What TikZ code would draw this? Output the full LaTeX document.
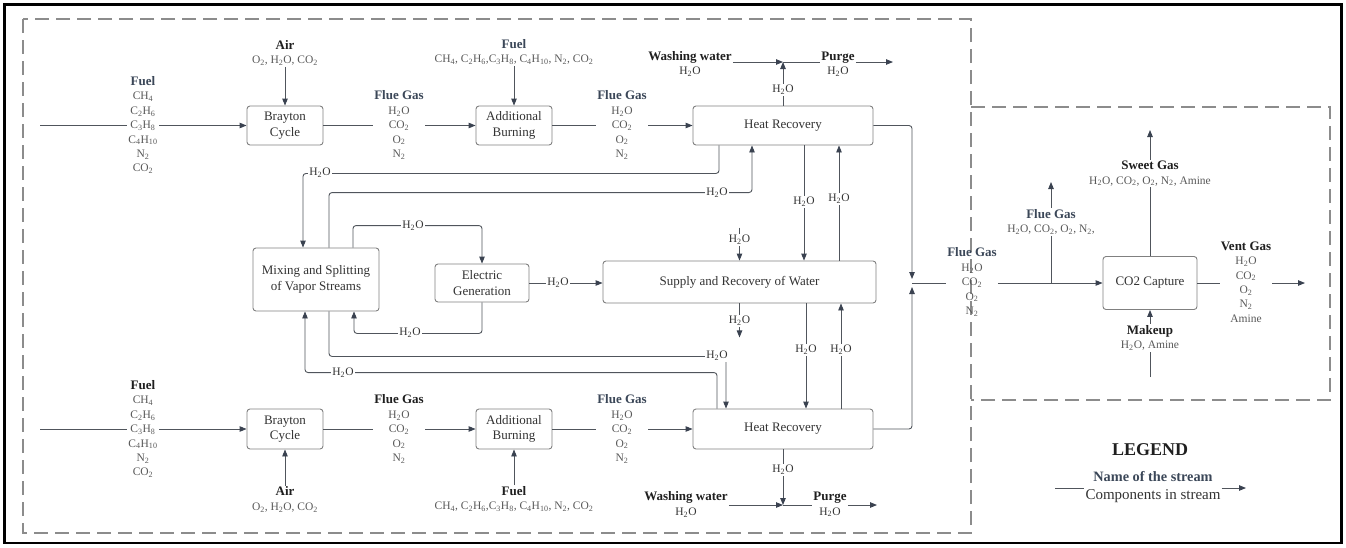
\documentclass[tikz,border=0pt]{standalone}
\usepackage{fontspec}
\setmainfont{Liberation Serif}
\usetikzlibrary{arrows.meta,calc}
\definecolor{lnc}{HTML}{50555C}
\definecolor{arc}{HTML}{3A4250}
\definecolor{boxc}{HTML}{808080}
\definecolor{txc}{HTML}{333333}
\definecolor{compc}{HTML}{595959}
\definecolor{slate}{HTML}{3B4758}
\definecolor{dashc}{HTML}{8C8C8C}
\newcommand{\wH}{H\textsubscript{2}O}
\newcommand{\wC}{CO\textsubscript{2}}
\newcommand{\wO}{O\textsubscript{2}}
\newcommand{\wN}{N\textsubscript{2}}
\newcommand{\ttl}[1]{{\fontsize{13}{14.4}\selectfont\bfseries\color{slate}#1}}
\newcommand{\ttk}[1]{{\fontsize{13}{14.4}\selectfont\bfseries\color{black!88}#1}}
\newcommand{\fuelcol}{CH\textsubscript{4}\\C\textsubscript{2}H\textsubscript{6}\\C\textsubscript{3}H\textsubscript{8}\\C\textsubscript{4}H\textsubscript{10}\\\wN\\\wC}
\newcommand{\fuelrow}{CH\textsubscript{4}, C\textsubscript{2}H\textsubscript{6},C\textsubscript{3}H\textsubscript{8}, C\textsubscript{4}H\textsubscript{10}, \wN, \wC}
\newcommand{\fluecol}{\wH\\\wC\\\wO\\\wN}
\tikzset{
  box/.style={draw=boxc, line width=0.9pt, rounded corners=3pt, fill=white, text=txc,
    align=center, inner sep=0pt, font=\fontsize{13}{15.5}\selectfont},
  conn/.style={draw=lnc, line width=0.9pt, rounded corners=3pt},
  arr/.style={conn, -{Triangle[length=7pt,width=5.5pt,color=arc]}},
  lab/.style={align=center, inner sep=1pt, text=compc, font=\fontsize{11.5}{14.4}\selectfont},
  labk/.style={lab, text=txc},
  wl/.style={fill=white, inner sep=1pt, text=txc, font=\fontsize{11.5}{13}\selectfont},
}
\begin{document}
\begin{tikzpicture}[x=1pt,y=-1pt]
\useasboundingbox (0,0) rectangle (1346,547);
\draw[line width=2.6pt] (4.5,4.5) rectangle (1341.5,543);
\draw[dashc, line width=1.1pt, dash pattern=on 14pt off 7pt] (23,19) rectangle (971,533);
\draw[dashc, line width=1.1pt, dash pattern=on 14pt off 7pt] (971,107) -- (1330,107) -- (1330,400) -- (971,400);

% boxes
\node[box, minimum width=76pt, minimum height=39pt] (bc1) at (285,125.5) {Brayton\\Cycle};
\node[box, minimum width=76pt, minimum height=39pt] (ab1) at (514,125.5) {Additional\\Burning};
\node[box, minimum width=180pt, minimum height=39pt] (hr1) at (783,125.5) {Heat Recovery};
\node[box, minimum width=76pt, minimum height=40pt] (bc2) at (285,429) {Brayton\\Cycle};
\node[box, minimum width=76pt, minimum height=40pt] (ab2) at (514,429) {Additional\\Burning};
\node[box, minimum width=180pt, minimum height=40pt] (hr2) at (783,429) {Heat Recovery};
\node[box, minimum width=126pt, minimum height=63pt] (mx) at (316,279.5) {Mixing and Splitting\\of Vapor Streams};
\node[box, minimum width=94pt, minimum height=38pt] (eg) at (482,283) {Electric\\Generation};
\node[box, minimum width=273pt, minimum height=42pt] (sw) at (739.5,282) {Supply and Recovery of Water};
\node[box, minimum width=94pt, minimum height=53pt] (cc) at (1150,283) {CO2 Capture};

% ---------- top row
\coordinate (fin1) at (40,125.5);
\draw[arr] (fin1) -- (bc1.west);
\node[lab, fill=white] (fu1) at (143,125) {\ttl{Fuel}\\\fuelcol};
\node[lab] (air1) at (285,53) {\ttk{Air}\\\wO, \wH, \wC};
\draw[arr] (air1.south) -- (bc1.north);
\draw[arr] (bc1.east) -- (ab1.west);
\node[lab, fill=white] (fg1) at (399,125) {\ttl{Flue Gas}\\\fluecol};
\node[lab] (fu2) at (514,52) {\ttl{Fuel}\\\fuelrow};
\draw[arr] (fu2.south) -- (ab1.north);
\draw[arr] (ab1.east) -- (hr1.west);
\node[lab, fill=white] (fg2) at (622,125) {\ttl{Flue Gas}\\\fluecol};
\coordinate (p1) at (783,62);
\draw[arr] (hr1.north) -- (p1);
\node[wl] (w14) at (783,90) {\wH};
\node[labk] (ww1) at (690,64) {\ttk{Washing water}\\\wH};
\draw[arr] (ww1.east |- p1) -- (p1);
\node[labk] (pg1) at (838,64) {\ttk{Purge}\\\wH};
\coordinate (pe1) at (893,62);
\draw[conn] (p1) -- (pg1.west |- p1);
\draw[arr] (pg1.east |- p1) -- (pe1);

% ---------- bottom row
\coordinate (fin2) at (40,429);
\draw[arr] (fin2) -- (bc2.west);
\node[lab, fill=white] (fu3) at (143,429) {\ttk{Fuel}\\\fuelcol};
\node[lab] (air2) at (285,499.5) {\ttk{Air}\\\wO, \wH, \wC};
\draw[arr] (air2.north) -- (bc2.south);
\draw[arr] (bc2.east) -- (ab2.west);
\node[lab, fill=white] (fg3) at (399,429) {\ttk{Flue Gas}\\\fluecol};
\node[lab] (fu4) at (514,499) {\ttk{Fuel}\\\fuelrow};
\draw[arr] (fu4.north) -- (ab2.south);
\draw[arr] (ab2.east) -- (hr2.west);
\node[lab, fill=white] (fg4) at (622,429) {\ttl{Flue Gas}\\\fluecol};
\coordinate (p2) at (783,505);
\draw[arr] (hr2.south) -- (p2);
\node[wl] (w15) at (783,470) {\wH};
\node[labk] (ww2) at (686,504.5) {\ttk{Washing water}\\\wH};
\draw[arr] (ww2.east |- p2) -- (p2);
\node[labk] (pg2) at (830,504.5) {\ttk{Purge}\\\wH};
\coordinate (pe2) at (877,505);
\draw[conn] (p2) -- (pg2.west |- p2);
\draw[arr] (pg2.east |- p2) -- (pe2);

% ---------- middle connectors
\draw[arr] ([xshift=-64pt]hr1.south) -- ++(0,28) -| ([xshift=-13pt]mx.north);
\draw[arr] ([xshift=13pt]mx.north) -- ++(0,-55) -| ([xshift=-31pt]hr1.south);
\draw[arr] ([xshift=13pt]mx.south) -- ++(0,45) -| ([xshift=-57pt]hr2.north);
\draw[arr] ([xshift=-66pt]hr2.north) -- ++(0,-36) -| ([xshift=-11pt]mx.south);
\draw[arr] ([xshift=37pt]mx.north) -- ++(0,-22) -| (eg.north);
\draw[arr] (eg.south) -- ++(0,31) -| ([xshift=38pt]mx.south);
\draw[arr] (eg.east) -- (eg.east -| sw.west);
\coordinate (h1) at ([xshift=21pt]hr1.south);
\draw[arr] (h1) -- (h1 |- sw.north);
\coordinate (h2) at ([xshift=99.5pt]sw.north);
\draw[arr] (h2) -- (h2 |- hr1.south);
\draw[arr] ([yshift=33pt]sw.north) -- (sw.north);
\draw[arr] (sw.south) -- ([yshift=-34pt]sw.south);
\coordinate (h3) at ([xshift=66.5pt]sw.south);
\draw[arr] (h3) -- (h3 |- hr2.north);
\coordinate (h4) at ([xshift=58pt]hr2.north);
\draw[arr] (h4) -- (h4 |- sw.south);

\node[wl] (w1) at (320,173) {\wH};
\node[wl] (w2) at (717,193) {\wH};
\node[wl] (w3) at (717,356) {\wH};
\node[wl] (w4) at (343,373) {\wH};
\node[wl] (w5) at (413,226) {\wH};
\node[wl] (w6) at (410,333) {\wH};
\node[wl] (w7) at (558,283) {\wH};
\node[wl] (w8) at (804,202) {\wH};
\node[wl] (w9) at (839,199) {\wH};
\node[wl] (w10) at (739.5,240) {\wH};
\node[wl] (w11) at (739.5,321) {\wH};
\node[wl] (w12) at (806,350) {\wH};
\node[wl] (w13) at (841,350) {\wH};

% ---------- to CO2 capture
\coordinate (j) at (912,283);
\draw[arr, shorten >=4pt] (hr1.east) -| (j);
\draw[arr, shorten >=4pt] (hr2.east) -| (j);
\node[lab] (fg5) at (972,282) {\ttl{Flue Gas}\\\fluecol};
\draw[conn] (j) -- (j -| fg5.west);
\draw[arr] (cc.west -| fg5.east) -- (cc.west);
\coordinate (br) at (1051,283);
\coordinate (brt) at (1051,182);
\draw[arr] (br) -- (brt);
\node[lab, fill=white] (fg6) at (1051,222) {\ttl{Flue Gas}\\\wH, \wC, \wO, \wN,};
\coordinate (swt) at (1150,130);
\draw[arr] (cc.north) -- (swt);
\node[lab, fill=white] (sg) at (1150,173.5) {\ttk{Sweet Gas}\\\wH, \wC, \wO, \wN, Amine};
\coordinate (mk) at (1150,377);
\draw[arr] (mk) -- (cc.south);
\node[lab, fill=white] (mku) at (1150,338) {\ttk{Makeup}\\\wH, Amine};
\coordinate (ve) at (1305,283);
\draw[arr] (cc.east) -- (ve);
\node[lab, fill=white] (vg) at (1246,282) {\ttk{Vent Gas}\\\wH\\\wC\\\wO\\\wN\\Amine};

% ---------- legend
\node[text=black!88, font=\fontsize{18}{20}\selectfont\bfseries] (lgt) at (1150,450) {LEGEND};
\node[align=center, inner sep=1pt, text=txc, font=\fontsize{15}{18}\selectfont] (lgl) at (1153,487)
  {{\fontsize{14.3}{18}\selectfont\bfseries\color{slate}Name of the stream}\\Components in stream};
\coordinate (lg1) at (1055,488);
\coordinate (lg2) at (1246,488);
\draw[conn] (lg1) -- (lgl.west |- lg1);
\draw[arr] (lgl.east |- lg2) -- (lg2);
\end{tikzpicture}
\end{document}
